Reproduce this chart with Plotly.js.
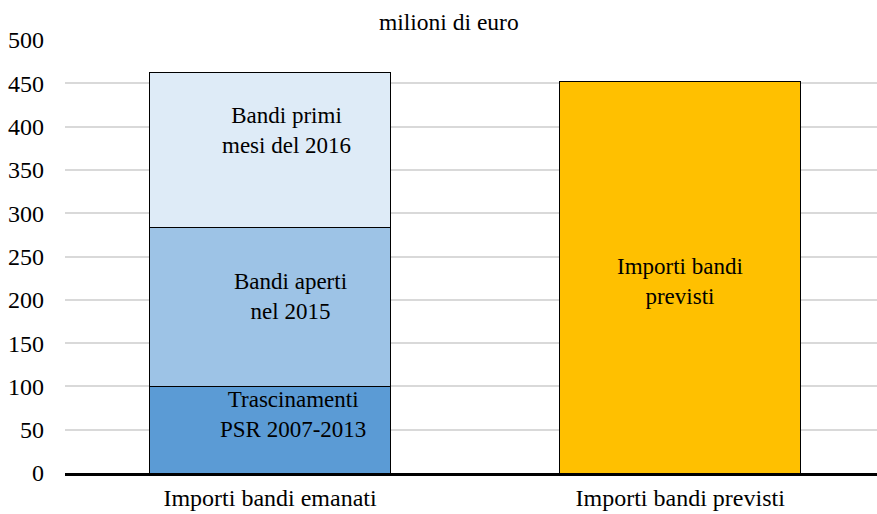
<!DOCTYPE html>
<html>
<head>
<meta charset="utf-8">
<script src="https://cdn.plot.ly/plotly-3.0.1.min.js"></script>
<style>html,body{margin:0;padding:0;background:#fff}</style>
</head>
<body>
<div id="chart" style="width:877px;height:514px"></div>
<script>
const categories = ["Importi bandi emanati", "Importi bandi previsti"];
const seriesNames = ["Trascinamenti<br>PSR 2007-2013", "Bandi aperti<br>nel 2015", "Bandi primi<br>mesi del 2016", "Importi bandi<br>previsti"];
const trascinamenti = [100, null];
const bandiAperti = [184, null];
const bandiPrimi = [178, null];
const previsti = [null, 452];
const tickVals = [0, 50, 100, 150, 200, 250, 300, 350, 400, 450, 500];

const colors = ["#5B9BD5", "#9DC3E6", "#DEEBF7", "#FFC000"];
const series = [trascinamenti, bandiAperti, bandiPrimi, previsti];
const font = "'Liberation Serif', 'Times New Roman', Tinos, serif";

const traces = series.map((vals, i) => ({
  type: "bar",
  x: [0, 1],
  y: vals,
  name: seriesNames[i],
  width: 0.588,
  marker: {color: colors[i], line: {color: "#000", width: 1}},
  hoverinfo: "skip"
}));

const labelPos = [[0.056, 68], [0.05, 204], [0.04, 396], [0, 221]];
const labelCat = [0, 0, 0, 1];
const annotations = seriesNames.map((t, i) => ({
  x: labelCat[i] + labelPos[i][0], y: labelPos[i][1], xref: "x", yref: "y",
  text: t, showarrow: false, font: {family: font, size: 23, color: "#000"}, align: "center"
}));
annotations.push({
  x: (449 - 65) / 812, y: 1 + 18 / 433, xref: "paper", yref: "paper", yanchor: "middle",
  text: "milioni di euro", showarrow: false, font: {family: font, size: 23.5, color: "#000"}
});

const layout = {
  width: 877, height: 514,
  margin: {l: 65, r: 0, t: 40, b: 41},
  barmode: "stack",
  showlegend: false,
  paper_bgcolor: "#fff", plot_bgcolor: "#fff",
  font: {family: font, size: 23, color: "#000"},
  xaxis: {
    range: [-0.5, 1.48],
    tickvals: [0, 1], ticktext: categories,
    showgrid: false, zeroline: false,
    showline: true, linecolor: "#000", linewidth: 3,
    ticks: "", ticklabelstandoff: 1,
    tickfont: {family: font, size: 24}
  },
  yaxis: {
    range: [0, 500],
    tickvals: tickVals,
    showgrid: true, gridcolor: "#D9D9D9", gridwidth: 2,
    zeroline: false, showline: false,
    ticks: "", ticklabelstandoff: 20,
    tickfont: {family: font, size: 24}
  },
  annotations: annotations
};

Plotly.newPlot("chart", traces, layout, {displayModeBar: false, staticPlot: true});
</script>
</body>
</html>
